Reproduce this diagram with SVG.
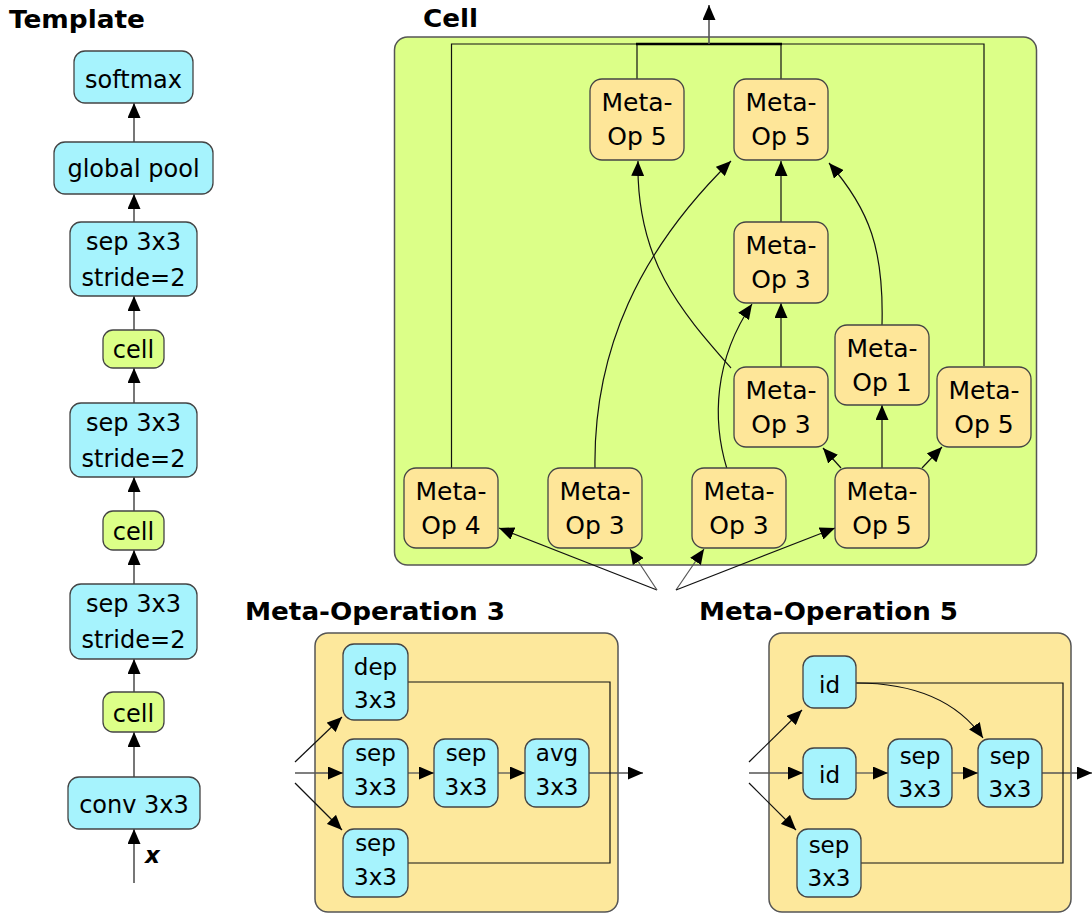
<svg xmlns="http://www.w3.org/2000/svg" width="1092" height="913" viewBox="0 0 1092 913">
<style>
.bg{fill:#ffffff}
.cy{fill:#a6f3fd;stroke:#444;stroke-width:1.3}
.li{fill:#dcff88;stroke:#444;stroke-width:1.3}
.ye{fill:#fee699;stroke:#444;stroke-width:1.3}
.pan{stroke:#555;stroke-width:1.5}
.t{font-family:"DejaVu Sans",Verdana,sans-serif;font-size:24px;fill:#000;text-anchor:middle}
.tm{font-family:"DejaVu Sans",Verdana,sans-serif;font-size:25px;fill:#000;text-anchor:middle}
.ts{font-family:"DejaVu Sans",Verdana,sans-serif;font-size:23px;fill:#000;text-anchor:middle}
.h{font-family:"DejaVu Sans",Verdana,sans-serif;font-size:24px;font-weight:bold;fill:#000}
.g{fill:none;stroke:#555;stroke-width:1.6}
.k{fill:none;stroke:#111;stroke-width:1.2}
</style>
<defs>
<marker id="ah" viewBox="0 0 15 13" refX="15" refY="6.5" markerWidth="15" markerHeight="13" orient="auto" markerUnits="userSpaceOnUse"><path d="M0,0 L15,6.5 L0,13 z" fill="#000"/></marker>
</defs>
<rect class="bg" x="0" y="0" width="1092" height="913"/>

<!-- Titles -->
<text class="h" x="9" y="28" textLength="136" lengthAdjust="spacingAndGlyphs">Template</text>
<text class="h" x="423" y="27" textLength="55" lengthAdjust="spacingAndGlyphs">Cell</text>
<text class="h" x="245" y="620" textLength="260" lengthAdjust="spacingAndGlyphs">Meta-Operation  3</text>
<text class="h" x="699" y="620" textLength="259" lengthAdjust="spacingAndGlyphs">Meta-Operation  5</text>

<!-- Panels -->
<rect id="cell-panel" class="pan" x="394.5" y="37" width="642" height="528" rx="13" fill="#dcff88"/>
<rect id="mo3-panel" class="pan" x="315" y="633" width="303" height="279" rx="13" fill="#fde89c"/>
<rect id="mo5-panel" class="pan" x="769" y="633" width="302" height="279" rx="13" fill="#fde89c"/>

<!-- Connectors -->
<g id="connectors">
  <!-- template -->
  <line class="g" x1="134" y1="142" x2="134" y2="103" marker-end="url(#ah)"/>
  <line class="g" x1="134" y1="222" x2="134" y2="194" marker-end="url(#ah)"/>
  <line class="g" x1="134" y1="330" x2="134" y2="296" marker-end="url(#ah)"/>
  <line class="g" x1="134" y1="403" x2="134" y2="368" marker-end="url(#ah)"/>
  <line class="g" x1="134" y1="511" x2="134" y2="477" marker-end="url(#ah)"/>
  <line class="g" x1="134" y1="584" x2="134" y2="550" marker-end="url(#ah)"/>
  <line class="g" x1="134" y1="692" x2="134" y2="659" marker-end="url(#ah)"/>
  <line class="g" x1="134" y1="777" x2="134" y2="732" marker-end="url(#ah)"/>
  <line class="g" x1="134" y1="883" x2="134" y2="829" marker-end="url(#ah)"/>

  <!-- cell frame -->
  <polyline class="k" points="451.5,469 451.5,44 984,44 984,366"/>
  <line class="k" x1="637" y1="44" x2="637" y2="79"/>
  <line class="k" x1="781" y1="44" x2="781" y2="79"/>
  <line x1="636" y1="44" x2="782" y2="44" stroke="#000" stroke-width="2.6"/>
  <line class="g" x1="709" y1="44" x2="709" y2="5" marker-end="url(#ah)"/>

  <!-- cell internal -->
  <path class="k" d="M595,469 C593,350 640,250 731,161" marker-end="url(#ah)"/>
  <path class="k" d="M731,368 C680,310 636,260 638,161" marker-end="url(#ah)"/>
  <line class="k" x1="781" y1="367" x2="781" y2="303" marker-end="url(#ah)"/>
  <line class="k" x1="781" y1="222" x2="781" y2="161" marker-end="url(#ah)"/>
  <path class="k" d="M882,325 C884,250 870,210 829,163" marker-end="url(#ah)"/>
  <path class="k" d="M727,469 C712,420 714,360 752,304" marker-end="url(#ah)"/>
  <line class="k" x1="882" y1="469" x2="882" y2="405" marker-end="url(#ah)"/>
  <line class="k" x1="841" y1="468" x2="823" y2="448" marker-end="url(#ah)"/>
  <line class="k" x1="922" y1="468" x2="942" y2="447" marker-end="url(#ah)"/>

  <!-- cell inputs -->
  <line class="k" x1="657" y1="590" x2="499" y2="528" marker-end="url(#ah)"/>
  <line class="g" x1="657" y1="590" x2="630" y2="549" marker-end="url(#ah)" style="stroke-width:1.2"/>
  <line class="g" x1="676" y1="590" x2="704" y2="549" marker-end="url(#ah)" style="stroke-width:1.2"/>
  <line class="k" x1="676" y1="590" x2="835" y2="528" marker-end="url(#ah)"/>

  <!-- Meta-Op 3 internal -->
  <line class="k" x1="295" y1="762" x2="342" y2="717" marker-end="url(#ah)"/>
  <line class="g" x1="295" y1="773" x2="343" y2="773" marker-end="url(#ah)" style="stroke-width:1.3"/>
  <line class="k" x1="295" y1="783" x2="342" y2="830" marker-end="url(#ah)"/>
  <line class="g" x1="408" y1="773" x2="434" y2="773" marker-end="url(#ah)" style="stroke-width:1.3"/>
  <line class="g" x1="498" y1="773" x2="525" y2="773" marker-end="url(#ah)" style="stroke-width:1.3"/>
  <line class="g" x1="589" y1="773" x2="643" y2="773" marker-end="url(#ah)" style="stroke-width:1.3"/>
  <polyline class="k" points="408,682 610,682 610,863 408,863"/>

  <!-- Meta-Op 5 internal -->
  <line class="k" x1="749" y1="762" x2="802" y2="710" marker-end="url(#ah)"/>
  <line class="g" x1="749" y1="773" x2="803" y2="773" marker-end="url(#ah)" style="stroke-width:1.3"/>
  <line class="k" x1="749" y1="783" x2="796" y2="830" marker-end="url(#ah)"/>
  <line class="g" x1="856" y1="773" x2="888" y2="773" marker-end="url(#ah)" style="stroke-width:1.3"/>
  <line class="g" x1="952" y1="773" x2="978" y2="773" marker-end="url(#ah)" style="stroke-width:1.3"/>
  <line class="g" x1="1042" y1="773" x2="1092" y2="773" marker-end="url(#ah)" style="stroke-width:1.3"/>
  <path class="k" d="M856,683 C920,683 960,705 983,738" marker-end="url(#ah)"/>
  <polyline class="k" points="856,683 1063,683 1063,863 861,863"/>
</g>

<!-- Template nodes -->
<g id="t-softmax"><rect class="cy" x="74" y="51" width="119" height="52" rx="11"/><text class="t" x="133.5" y="88">softmax</text></g>
<g id="t-globalpool"><rect class="cy" x="54" y="142" width="159" height="52" rx="11"/><text class="t" x="133.5" y="177">global pool</text></g>
<g id="t-sep1"><rect class="cy" x="70" y="222" width="127" height="74" rx="11"/><text class="t" x="133.5" y="250">sep 3x3</text><text class="t" x="133.5" y="286">stride=2</text></g>
<g id="t-cell1"><rect class="li" x="103" y="330" width="61" height="38" rx="10"/><text class="t" x="133.5" y="358">cell</text></g>
<g id="t-sep2"><rect class="cy" x="70" y="403" width="127" height="74" rx="11"/><text class="t" x="133.5" y="431">sep 3x3</text><text class="t" x="133.5" y="467">stride=2</text></g>
<g id="t-cell2"><rect class="li" x="103" y="511" width="61" height="39" rx="10"/><text class="t" x="133.5" y="540">cell</text></g>
<g id="t-sep3"><rect class="cy" x="70" y="584" width="127" height="75" rx="11"/><text class="t" x="133.5" y="612">sep 3x3</text><text class="t" x="133.5" y="648">stride=2</text></g>
<g id="t-cell3"><rect class="li" x="103" y="692" width="61" height="40" rx="10"/><text class="t" x="133.5" y="722">cell</text></g>
<g id="t-conv"><rect class="cy" x="68" y="777" width="132" height="52" rx="11"/><text class="t" x="134" y="813">conv 3x3</text></g>
<text x="145" y="863" font-family="DejaVu Sans, sans-serif" font-size="23" font-weight="bold" font-style="italic">x</text>

<!-- Cell nodes -->
<g id="c-mo5a"><rect class="ye" x="590" y="79" width="94" height="81" rx="12"/><text class="tm" x="637" y="111">Meta-</text><text class="tm" x="637" y="145">Op 5</text></g>
<g id="c-mo5b"><rect class="ye" x="734" y="79" width="94" height="81" rx="12"/><text class="tm" x="781" y="111">Meta-</text><text class="tm" x="781" y="145">Op 5</text></g>
<g id="c-mo3mid"><rect class="ye" x="734" y="222" width="94" height="81" rx="12"/><text class="tm" x="781" y="254">Meta-</text><text class="tm" x="781" y="288">Op 3</text></g>
<g id="c-mo3r2"><rect class="ye" x="734" y="367" width="94" height="80" rx="12"/><text class="tm" x="781" y="399">Meta-</text><text class="tm" x="781" y="433">Op 3</text></g>
<g id="c-mo1"><rect class="ye" x="835" y="325" width="94" height="80" rx="12"/><text class="tm" x="882" y="357">Meta-</text><text class="tm" x="882" y="391">Op 1</text></g>
<g id="c-mo5r"><rect class="ye" x="937" y="367" width="94" height="80" rx="12"/><text class="tm" x="984" y="399">Meta-</text><text class="tm" x="984" y="433">Op 5</text></g>
<g id="c-mo4"><rect class="ye" x="404" y="468" width="94" height="80" rx="12"/><text class="tm" x="451" y="500">Meta-</text><text class="tm" x="451" y="534">Op 4</text></g>
<g id="c-mo3a"><rect class="ye" x="548" y="468" width="94" height="80" rx="12"/><text class="tm" x="595" y="500">Meta-</text><text class="tm" x="595" y="534">Op 3</text></g>
<g id="c-mo3b"><rect class="ye" x="692" y="468" width="94" height="80" rx="12"/><text class="tm" x="739" y="500">Meta-</text><text class="tm" x="739" y="534">Op 3</text></g>
<g id="c-mo5c"><rect class="ye" x="835" y="468" width="94" height="80" rx="12"/><text class="tm" x="882" y="500">Meta-</text><text class="tm" x="882" y="534">Op 5</text></g>

<!-- Meta-Op 3 nodes -->
<g id="m3-dep"><rect class="cy" x="343" y="644" width="65" height="76" rx="11"/><text class="ts" x="375.5" y="675">dep</text><text class="ts" x="375.5" y="708">3x3</text></g>
<g id="m3-sep1"><rect class="cy" x="343" y="739" width="65" height="68" rx="11"/><text class="ts" x="375.5" y="761">sep</text><text class="ts" x="375.5" y="795">3x3</text></g>
<g id="m3-sep2"><rect class="cy" x="434" y="739" width="64" height="68" rx="11"/><text class="ts" x="466" y="761">sep</text><text class="ts" x="466" y="795">3x3</text></g>
<g id="m3-avg"><rect class="cy" x="525" y="739" width="64" height="68" rx="11"/><text class="ts" x="557" y="761">avg</text><text class="ts" x="557" y="795">3x3</text></g>
<g id="m3-sep3"><rect class="cy" x="343" y="829" width="65" height="68" rx="11"/><text class="ts" x="375.5" y="851">sep</text><text class="ts" x="375.5" y="885">3x3</text></g>

<!-- Meta-Op 5 nodes -->
<g id="m5-id1"><rect class="cy" x="803" y="656" width="53" height="52" rx="11"/><text class="ts" x="829.5" y="693">id</text></g>
<g id="m5-id2"><rect class="cy" x="803" y="748" width="53" height="51" rx="11"/><text class="ts" x="829.5" y="783">id</text></g>
<g id="m5-sep1"><rect class="cy" x="888" y="739" width="64" height="68" rx="11"/><text class="ts" x="920" y="764">sep</text><text class="ts" x="920" y="797">3x3</text></g>
<g id="m5-sep2"><rect class="cy" x="978" y="739" width="64" height="68" rx="11"/><text class="ts" x="1010" y="764">sep</text><text class="ts" x="1010" y="797">3x3</text></g>
<g id="m5-sep3"><rect class="cy" x="797" y="829" width="64" height="68" rx="11"/><text class="ts" x="829" y="853">sep</text><text class="ts" x="829" y="886">3x3</text></g>
</svg>
